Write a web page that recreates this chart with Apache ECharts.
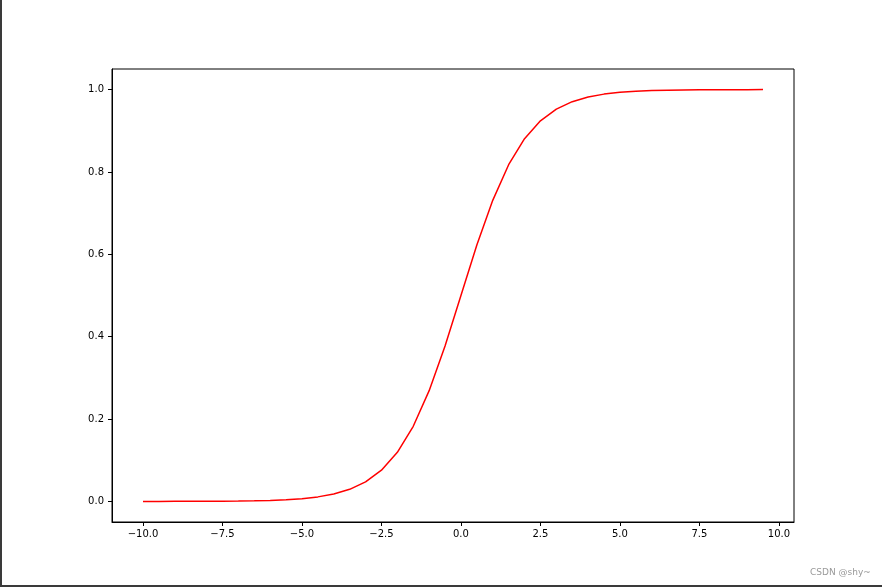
<!DOCTYPE html>
<html>
<head>
<meta charset="utf-8">
<script src="https://cdn.jsdelivr.net/npm/echarts@6/dist/echarts.min.js"></script>
<style>
  html, body { margin: 0; padding: 0; background: #fff; }
  #chart { width: 882px; height: 587px; }
</style>
</head>
<body>
<div id="chart"></div>
<script>
// x values and sigmoid curve
var xValues = [-10, -9.5, -9, -8.5, -8, -7.5, -7, -6.5, -6, -5.5, -5, -4.5, -4, -3.5, -3, -2.5, -2, -1.5, -1, -0.5,
  0, 0.5, 1, 1.5, 2, 2.5, 3, 3.5, 4, 4.5, 5, 5.5, 6, 6.5, 7, 7.5, 8, 8.5, 9, 9.5]
var yValues = [0.00005, 0.00007, 0.00012, 0.0002, 0.00034, 0.00055, 0.00091, 0.0015, 0.00247, 0.00407,
  0.00669, 0.01099, 0.01799, 0.02931, 0.04743, 0.07586, 0.1192, 0.18243, 0.26894, 0.37754,
  0.5, 0.62246, 0.73106, 0.81757, 0.8808, 0.92414, 0.95257, 0.97069, 0.98201, 0.98901,
  0.99331, 0.99593, 0.99753, 0.9985, 0.99909, 0.99945, 0.99966, 0.9998, 0.99988, 0.99993]
var xTicks = [-10, -7.5, -5, -2.5, 0, 2.5, 5, 7.5, 10]
var yTicks = [0, 0.2, 0.4, 0.6, 0.8, 1.0]

var chart = echarts.init(document.getElementById('chart'))

function fmt(v) {
  return Number(v).toFixed(1).replace('-', '\u2212')
}

var labelStyle = {
  color: '#000',
  fontFamily: 'DejaVu Sans',
  fontSize: 10
}

chart.setOption({
  animation: false,
  backgroundColor: '#fff',
  grid: {
    left: 112,
    top: 69,
    right: 88,
    bottom: 65,
    show: true,
    borderColor: '#000',
    borderWidth: 1
  },
  xAxis: {
    type: 'value',
    min: -10.975,
    max: 10.475,
    axisLine: { show: true, onZero: false, lineStyle: { color: '#000', width: 1 } },
    splitLine: { show: false },
    axisTick: {
      show: true,
      inside: false,
      length: 4,
      customValues: xTicks,
      lineStyle: { color: '#000' }
    },
    axisLabel: Object.assign({
      customValues: xTicks,
      margin: 7,
      formatter: fmt
    }, labelStyle)
  },
  yAxis: {
    type: 'value',
    min: -0.05,
    max: 1.05,
    axisLine: { show: true, onZero: false, lineStyle: { color: '#000', width: 1 } },
    splitLine: { show: false },
    axisTick: {
      show: true,
      inside: false,
      length: 4,
      customValues: yTicks,
      lineStyle: { color: '#000' }
    },
    axisLabel: Object.assign({
      customValues: yTicks,
      margin: 8,
      formatter: fmt
    }, labelStyle)
  },
  series: [{
    type: 'line',
    data: xValues.map(function (x, i) { return [x, yValues[i]] }),
    showSymbol: false,
    symbol: 'none',
    lineStyle: { color: '#ff0000', width: 1.5 },
    itemStyle: { color: '#ff0000' }
  }],
  graphic: [
    { type: 'rect', left: 0, top: 0, shape: { width: 2, height: 587 }, style: { fill: '#3a3a3a' } },
    { type: 'rect', left: 0, top: 585, shape: { width: 882, height: 2 }, style: { fill: '#3a3a3a' } },
    {
      type: 'text',
      left: 810,
      top: 568,
      style: { text: 'CSDN @shy~', fill: '#999', font: '9px "DejaVu Sans"' }
    }
  ]
})
</script>
</body>
</html>
